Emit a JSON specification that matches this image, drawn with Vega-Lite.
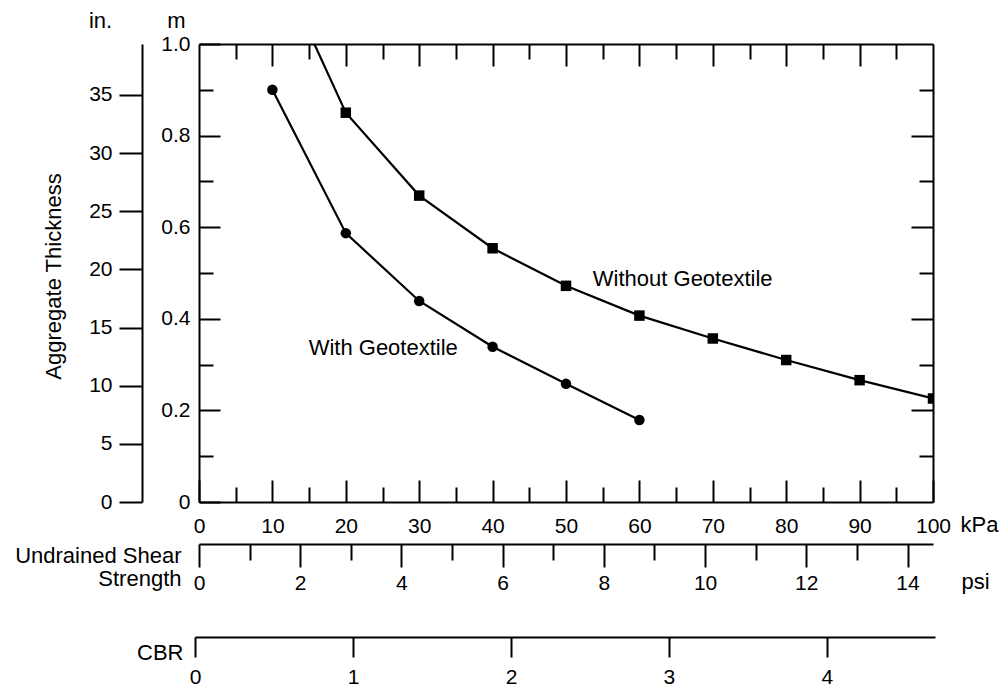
{
  "$schema": "https://vega.github.io/schema/vega-lite/v6.json",
  "width": 734,
  "height": 458,
  "autosize": {"type": "none"},
  "padding": {"left": 199, "top": 44, "right": 72, "bottom": 186},
  "background": "white",
  "datasets": {
    "series": [
      {"kpa": 10, "m": 0.90, "series": "With Geotextile"},
      {"kpa": 20, "m": 0.587, "series": "With Geotextile"},
      {"kpa": 30, "m": 0.439, "series": "With Geotextile"},
      {"kpa": 40, "m": 0.339, "series": "With Geotextile"},
      {"kpa": 50, "m": 0.258, "series": "With Geotextile"},
      {"kpa": 60, "m": 0.179, "series": "With Geotextile"},
      {"kpa": 10, "m": 1.2, "series": "Without Geotextile"},
      {"kpa": 20, "m": 0.85, "series": "Without Geotextile"},
      {"kpa": 30, "m": 0.669, "series": "Without Geotextile"},
      {"kpa": 40, "m": 0.554, "series": "Without Geotextile"},
      {"kpa": 50, "m": 0.472, "series": "Without Geotextile"},
      {"kpa": 60, "m": 0.407, "series": "Without Geotextile"},
      {"kpa": 70, "m": 0.357, "series": "Without Geotextile"},
      {"kpa": 80, "m": 0.310, "series": "Without Geotextile"},
      {"kpa": 90, "m": 0.266, "series": "Without Geotextile"},
      {"kpa": 100, "m": 0.226, "series": "Without Geotextile"}
    ],
    "labels": [
      {"kpa": 25.1, "m": 0.336, "text": "With Geotextile"},
      {"kpa": 65.9, "m": 0.487, "text": "Without Geotextile"}
    ]
  },
  "config": {
    "view": {"stroke": null},
    "axis": {
      "grid": false,
      "domainColor": "black",
      "domainWidth": 2,
      "tickColor": "black",
      "tickWidth": 2,
      "labelColor": "black",
      "labelFont": "Liberation Sans",
      "labelFontSize": 21,
      "labelFlush": false,
      "labelOverlap": false,
      "titleFont": "Liberation Sans",
      "titleFontSize": 22,
      "titleFontWeight": "normal",
      "titleColor": "black"
    }
  },
  "resolve": {
    "scale": {"x": "independent", "y": "independent"},
    "axis": {"x": "independent", "y": "independent"}
  },
  "layer": [
    {
      "data": {"name": "series"},
      "mark": {"type": "line", "color": "black", "strokeWidth": 2.2, "clip": true},
      "encoding": {
        "x": {"field": "kpa", "type": "quantitative",
          "scale": {"domain": [0, 100], "nice": false, "zero": false},
          "axis": {"orient": "bottom", "values": [0,10,20,30,40,50,60,70,80,90,100], "tickSize": -22, "labelPadding": 35,
            "title": "kPa", "titleX": 780, "titleY": 22, "titleAlign": "center", "titleBaseline": "middle", "titleAnchor": null}},
        "y": {"field": "m", "type": "quantitative",
          "scale": {"domain": [0, 1], "nice": false, "zero": false},
          "axis": {"orient": "left", "values": [0,0.2,0.4,0.6,0.8,1], "tickSize": -21, "labelPadding": 30,
            "labelExpr": "datum.value == 0 ? '0' : format(datum.value, '.1f')",
            "title": "m", "titleAngle": 0, "titleX": -23, "titleY": -24, "titleAlign": "center", "titleBaseline": "middle"}},
        "detail": {"field": "series", "type": "nominal"}
      }
    },
    {
      "data": {"name": "series"},
      "mark": {"type": "point", "filled": true, "opacity": 1, "color": "black", "clip": true},
      "encoding": {
        "x": {"field": "kpa", "type": "quantitative",
          "scale": {"domain": [0, 100], "nice": false, "zero": false},
          "axis": {"orient": "bottom", "values": [5,15,25,35,45,55,65,75,85,95], "tickSize": -15, "labels": false, "domain": false, "title": null}},
        "y": {"field": "m", "type": "quantitative",
          "scale": {"domain": [0, 1], "nice": false, "zero": false},
          "axis": {"orient": "left", "values": [0.1,0.3,0.5,0.7,0.9], "tickSize": -14, "labels": false, "domain": false, "title": null}},
        "shape": {"field": "series", "type": "nominal",
          "scale": {"domain": ["With Geotextile", "Without Geotextile"], "range": ["circle", "square"]}, "legend": null},
        "size": {"field": "series", "type": "nominal",
          "scale": {"domain": ["With Geotextile", "Without Geotextile"], "range": [110, 110]}, "legend": null}
      }
    },
    {
      "data": {"name": "labels"},
      "mark": {"type": "text", "font": "Liberation Sans", "fontSize": 22, "color": "black", "align": "center", "baseline": "middle"},
      "encoding": {
        "x": {"field": "kpa", "type": "quantitative",
          "scale": {"domain": [0, 100], "nice": false, "zero": false},
          "axis": {"orient": "top", "values": [10,20,30,40,50,60,70,80,90], "tickSize": -22, "labels": false, "title": null}},
        "y": {"field": "m", "type": "quantitative",
          "scale": {"domain": [0, 1], "nice": false, "zero": false},
          "axis": {"orient": "right", "values": [0.2,0.4,0.6,0.8], "tickSize": -22, "labels": false, "title": null}},
        "text": {"field": "text", "type": "nominal"}
      }
    },
    {
      "data": {"name": "labels"},
      "mark": {"type": "point", "opacity": 0},
      "encoding": {
        "x": {"field": "kpa", "type": "quantitative",
          "scale": {"domain": [0, 100], "nice": false, "zero": false},
          "axis": {"orient": "top", "values": [5,15,25,35,45,55,65,75,85,95], "tickSize": -15, "labels": false, "domain": false, "title": null}},
        "y": {"field": "m", "type": "quantitative",
          "scale": {"domain": [0, 1], "nice": false, "zero": false},
          "axis": {"orient": "right", "values": [0.1,0.3,0.5,0.7,0.9], "tickSize": -14, "labels": false, "domain": false, "title": null}}
      }
    },
    {
      "data": {"name": "series"},
      "mark": {"type": "point", "opacity": 0},
      "encoding": {
        "y": {"datum": 0, "type": "quantitative",
          "scale": {"domain": [0, 39.37], "nice": false, "zero": false},
          "axis": {"orient": "left", "offset": 57, "values": [0,5,10,15,20,25,30,35], "tickSize": 23, "labelPadding": 7,
            "title": "in.", "titleAngle": 0, "titleX": -42, "titleY": -24, "titleAlign": "center", "titleBaseline": "middle"}}
      }
    },
    {
      "data": {"name": "series"},
      "mark": {"type": "point", "opacity": 0},
      "encoding": {
        "y": {"datum": 0, "type": "quantitative",
          "scale": {"domain": [0, 1], "nice": false, "zero": false},
          "axis": {"orient": "left", "offset": 57, "domain": false, "ticks": false, "labels": false,
            "title": "Aggregate Thickness", "titleAngle": -90, "titleX": -89, "titleY": 232, "titleAlign": "center", "titleBaseline": "middle"}}
      }
    },
    {
      "data": {"name": "series"},
      "mark": {"type": "point", "opacity": 0},
      "encoding": {
        "x": {"datum": 0, "type": "quantitative",
          "scale": {"domain": [0, 14.5038], "nice": false, "zero": false},
          "axis": {"orient": "bottom", "offset": 42, "values": [0,2,4,6,8,10,12,14], "tickSize": 23, "labelPadding": 5,
            "title": ["Undrained Shear", "Strength"], "titleLineHeight": 23, "titleAlign": "right", "titleBaseline": "top", "titleAngle": 0,
            "titleX": -18, "titleY": 1}}
      }
    },
    {
      "data": {"name": "series"},
      "mark": {"type": "point", "opacity": 0},
      "encoding": {
        "x": {"datum": 0, "type": "quantitative",
          "scale": {"domain": [0, 14.5038], "nice": false, "zero": false},
          "axis": {"orient": "bottom", "offset": 42, "values": [1,3,5,7,9,11,13], "tickSize": 16, "labels": false, "domain": false,
            "title": "psi", "titleAlign": "center", "titleBaseline": "middle", "titleX": 776, "titleY": 37}}
      }
    },
    {
      "data": {"name": "series"},
      "mark": {"type": "point", "opacity": 0},
      "encoding": {
        "x": {"datum": 0, "type": "quantitative",
          "scale": {"domain": [0, 4.684], "range": [-4, 736], "nice": false, "zero": false},
          "axis": {"orient": "bottom", "offset": 135, "values": [0,1,2,3,4], "tickSize": 20, "labelPadding": 9,
            "title": "CBR", "titleAlign": "right", "titleBaseline": "middle", "titleX": -16, "titleY": 15}}
      }
    }
  ]
}
